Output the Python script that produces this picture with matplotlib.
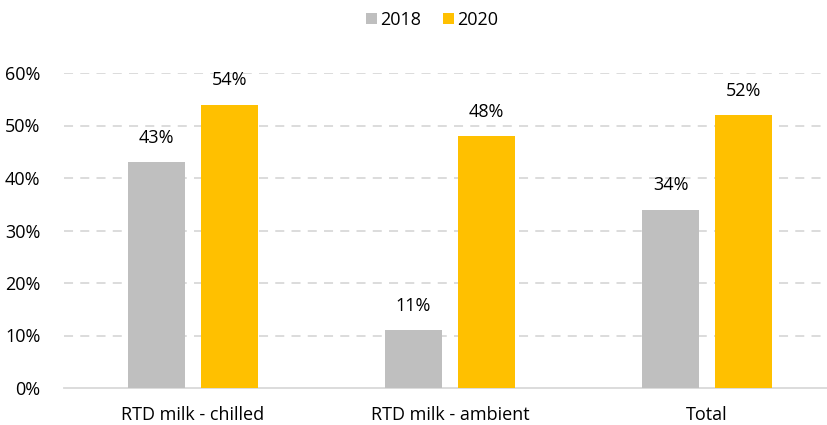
import matplotlib
matplotlib.use("Agg")
import matplotlib.pyplot as plt
import numpy as np

categories = ["RTD milk - chilled", "RTD milk - ambient", "Total"]
series_names = ["2018", "2020"]
values_2018 = [43, 11, 34]
values_2020 = [54, 48, 52]
yticks = [0, 10, 20, 30, 40, 50, 60]
colors = ["#BFBFBF", "#FFC000"]

plt.rcParams['font.family'] = ['Open Sans', 'DejaVu Sans']

fig = plt.figure(figsize=(8.28, 4.25), dpi=100)
ax = fig.add_axes([64/828, 37/425, 1 - 64/828, 315/425])

x = np.arange(len(categories))
w = 0.222
off = 0.142
for vals, name, c, d in [(values_2018, series_names[0], colors[0], -off),
                         (values_2020, series_names[1], colors[1], off)]:
    bars = ax.bar(x + d, vals, width=w, color=c, label=name, zorder=3)
    for b, v in zip(bars, vals):
        ax.text(b.get_x() + b.get_width()/2, v + 2.9, f"{v}%", ha="center",
                va="bottom", fontsize=13, color="#000000")

ax.set_xlim(-0.5, 2.47)
ax.set_ylim(0, 60)
ax.set_yticks(yticks)
ax.set_yticklabels([f"{t}%" for t in yticks], fontsize=13)
ax.set_xticks(x)
ax.set_xticklabels(categories, fontsize=13)
ax.tick_params(axis='x', length=0, pad=13)
ax.tick_params(axis='y', length=0, pad=17)
for t in yticks[1:]:
    ax.axhline(t, color="#D9D9D9", linestyle=(0, (5, 4)), linewidth=1.3, zorder=1)
for s in ["top", "right", "left"]:
    ax.spines[s].set_visible(False)
ax.spines["bottom"].set_color("#D9D9D9")
ax.spines["bottom"].set_linewidth(1.3)

fig.legend(*ax.get_legend_handles_labels(), loc="center", bbox_to_anchor=(432/828, 1 - 20/425),
           ncol=2, frameon=False, fontsize=13, handlelength=0.6, handleheight=0.6,
           handletextpad=0.2, columnspacing=1.2)

fig.savefig("out.png", dpi=100)
